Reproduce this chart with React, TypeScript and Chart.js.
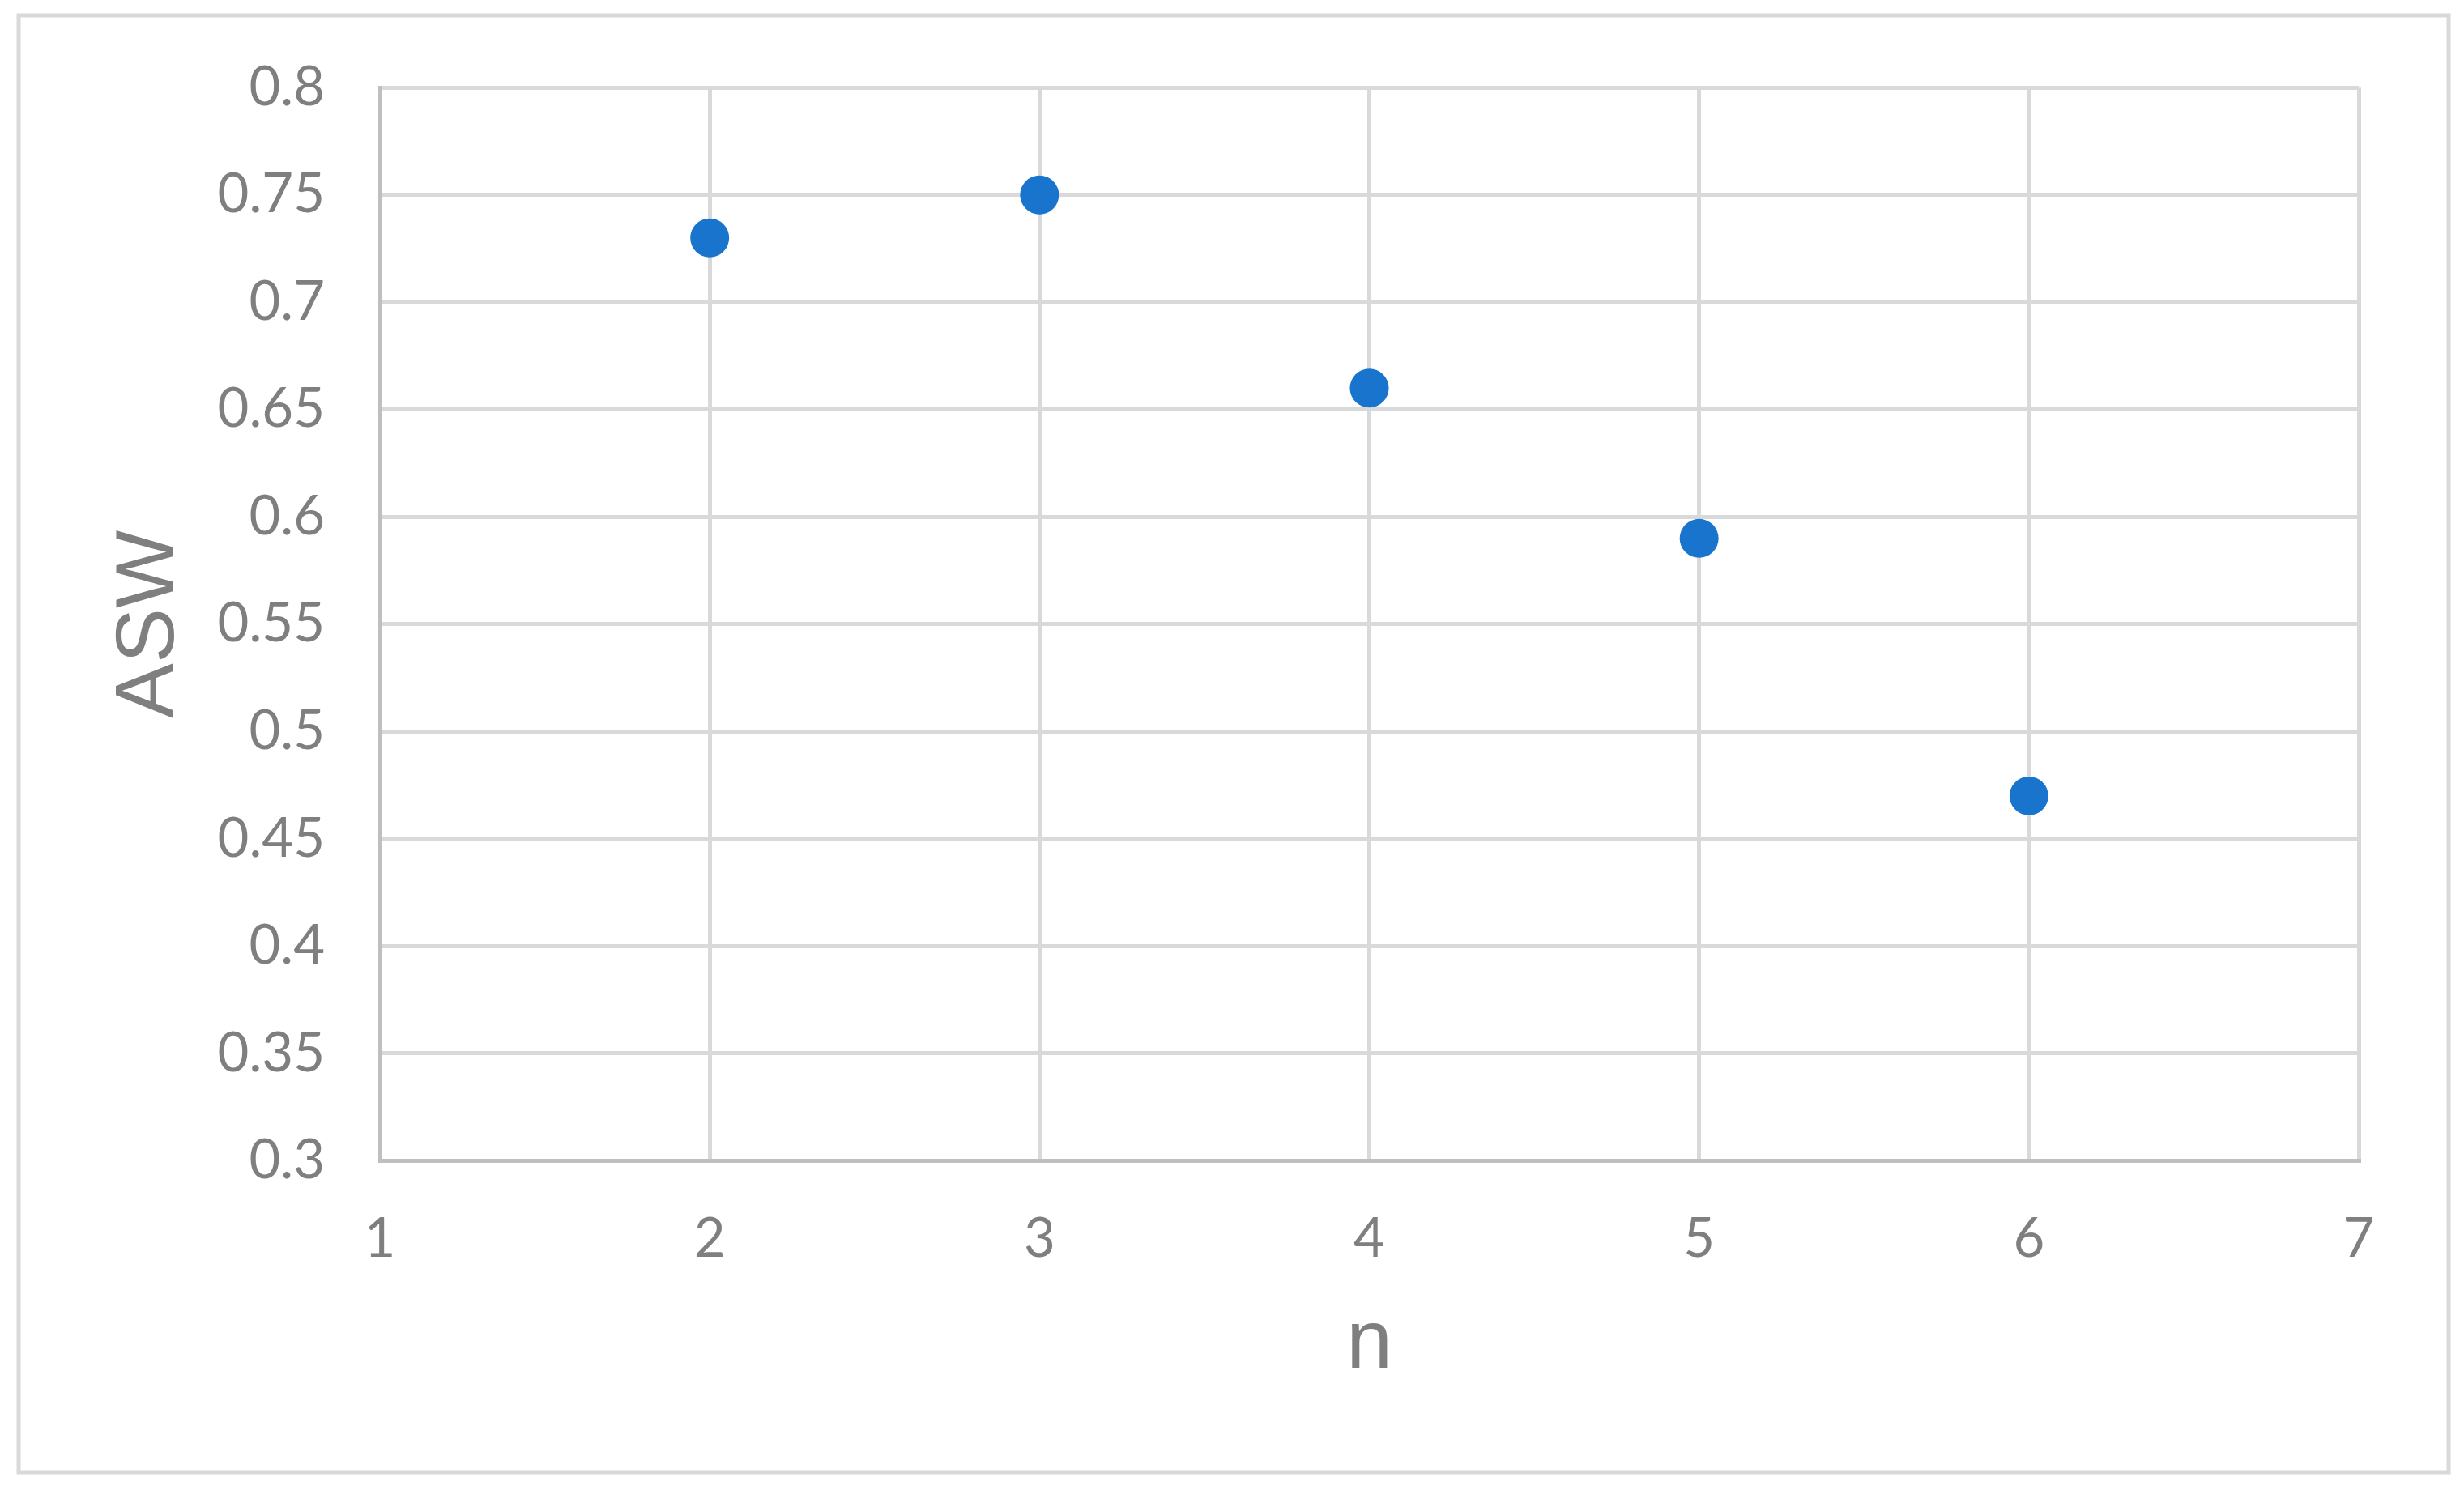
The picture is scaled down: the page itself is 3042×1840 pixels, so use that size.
import React, { useEffect, useRef } from "react";
import { Chart, registerables } from "chart.js";

Chart.register(...registerables);

const nValues = [2, 3, 4, 5, 6];
const aswValues = [0.73, 0.75, 0.66, 0.59, 0.47];
const xTickValues = [1, 2, 3, 4, 5, 6, 7];
const yTickLabels = ["0.3", "0.35", "0.4", "0.45", "0.5", "0.55", "0.6", "0.65", "0.7", "0.75", "0.8"];
const xTitle = "n";
const yTitle = "ASW";

const W = 3042;
const H = 1840;

const framePlugin = {
  id: "frame",
  beforeDraw(chart: any) {
    const ctx = chart.ctx;
    ctx.save();
    ctx.fillStyle = "#ffffff";
    ctx.fillRect(0, 0, chart.width, chart.height);
    ctx.strokeStyle = "#d9d9d9";
    ctx.lineWidth = 5;
    ctx.strokeRect(23, 19, 3000, 1799);
    ctx.restore();
  },
};

export default function App() {
  const ref = useRef<HTMLCanvasElement | null>(null);

  useEffect(() => {
    if (!ref.current) return;
    const chart = new Chart(ref.current, {
      type: "scatter",
      data: {
        datasets: [
          {
            label: yTitle,
            data: nValues.map((x, i) => ({ x, y: aswValues[i] })),
            backgroundColor: "#1874cd",
            borderColor: "#1874cd",
            borderWidth: 0,
            pointRadius: 24,
            pointHoverRadius: 24,
          },
        ],
      },
      options: {
        responsive: false,
        animation: false,
        devicePixelRatio: 1,
        layout: { padding: { left: 0, top: 108, right: 130, bottom: 0 } },
        plugins: {
          legend: { display: false },
          tooltip: { enabled: false },
          title: { display: false },
        },
        scales: {
          x: {
            type: "linear",
            min: 1,
            max: 7,
            afterBuildTicks: (scale: any) => {
              scale.ticks = xTickValues.map((v) => ({ value: v }));
            },
            afterFit: (scale: any) => {
              scale.height = H - 1433.5;
            },
            grid: { color: "#d9d9d9", lineWidth: 5, drawTicks: false },
            border: { color: "#bfbfbf", width: 5 },
            ticks: {
              color: "#7f7f7f",
              font: { family: "Lato", size: 67 },
              padding: 57,
              maxRotation: 0,
              callback: (v: any) => String(v),
            },
            title: {
              display: true,
              text: xTitle,
              color: "#7f7f7f",
              font: { family: "Liberation Sans", size: 102 },
              padding: { top: 0, bottom: 118 },
            },
          },
          y: {
            type: "linear",
            min: 0.3,
            max: 0.8,
            afterBuildTicks: (scale: any) => {
              scale.ticks = yTickLabels.map((l) => ({ value: parseFloat(l) }));
            },
            afterFit: (scale: any) => {
              scale.width = 469;
            },
            grid: { color: "#d9d9d9", lineWidth: 5, drawTicks: false },
            border: { color: "#bfbfbf", width: 5 },
            ticks: {
              color: "#7f7f7f",
              font: { family: "Lato", size: 67 },
              padding: 68,
              callback: (v: any, i: number) => yTickLabels[i] ?? String(v),
            },
            title: {
              display: true,
              text: yTitle,
              color: "#7f7f7f",
              font: { family: "Liberation Sans", size: 102 },
              padding: { top: 125, bottom: 0 },
            },
          },
        },
      },
      plugins: [framePlugin],
    });
    return () => chart.destroy();
  }, []);

  return (
    <div style={{ position: "absolute", left: 0, top: 0, width: W, height: H }}>
      <canvas ref={ref} width={W} height={H} style={{ display: "block", width: W, height: H }} />
    </div>
  );
}
